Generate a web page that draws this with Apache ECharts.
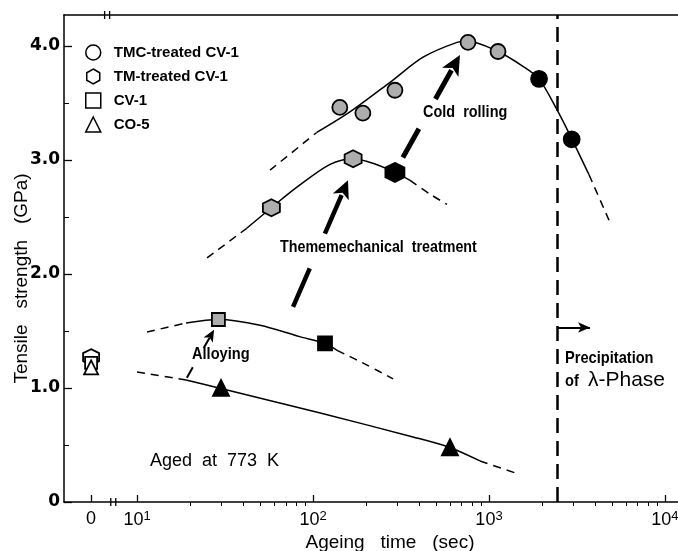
<!DOCTYPE html>
<html>
<head>
<meta charset="utf-8">
<script src="https://cdn.jsdelivr.net/npm/echarts@6/dist/echarts.min.js"></script>
<style>
  html, body { margin: 0; padding: 0; background: #fff; }
  #chart { width: 678px; height: 551px; }
</style>
</head>
<body>
<div id="chart"></div>
<script>
// ageing time in sec (0 = as-received), tensile strength in GPa
var tmcTime = [142, 192, 292, 760, 1125]
var tmcGPa = [3.46, 3.41, 3.61, 4.03, 3.95]
var tmcOverTime = [1925, 2950]
var tmcOverGPa = [3.71, 3.18]

var tmTime = [58, 169]
var tmGPa = [2.58, 3.01]
var tmOverTime = [292]
var tmOverGPa = [2.89]

var cvTime = [29]
var cvGPa = [1.60]
var cvOverTime = [117]
var cvOverGPa = [1.39]

var coTime = [30, 600]
var coGPa = [1.00, 0.48]

// as-received (t = 0) values
var zeroHexGPa = [1.27]
var zeroSquareGPa = [1.22]
var zeroTriGPa = [1.18]

// hand drawn curves: dashed lead-in, solid part, dashed tail
var tmcLeadTime = [57, 105], tmcLeadGPa = [2.91, 3.24]
var tmcSolidTime = [105, 162, 274, 422, 658, 760, 1125, 1560, 1923, 2433, 2963, 3700]
var tmcSolidGPa = [3.24, 3.42, 3.68, 3.90, 4.03, 4.04, 3.95, 3.82, 3.71, 3.44, 3.18, 2.87]
var tmcTailTime = [3700, 4810], tmcTailGPa = [2.87, 2.47]

var tmLeadTime = [25, 42], tmLeadGPa = [2.14, 2.40]
var tmSolidTime = [42, 58, 81, 125, 169, 219, 292, 356]
var tmSolidGPa = [2.40, 2.58, 2.76, 2.96, 3.01, 2.97, 2.89, 2.82]
var tmTailTime = [356, 462, 577], tmTailGPa = [2.82, 2.70, 2.61]

var cvLeadTime = [11.4, 19], cvLeadGPa = [1.49, 1.57]
var cvSolidTime = [19, 29.2, 50, 84, 117, 137]
var cvSolidGPa = [1.57, 1.60, 1.55, 1.45, 1.39, 1.33]
var cvTailTime = [137, 203, 285], cvTailGPa = [1.33, 1.20, 1.08]

var coLeadTime = [10, 19], coLeadGPa = [1.14, 1.07]
var coSolidTime = [19, 29.2, 110, 370, 593, 889]
var coSolidGPa = [1.07, 1.00, 0.78, 0.57, 0.48, 0.36]
var coTailTime = [889, 1442], coTailGPa = [0.36, 0.25]

// arrows [fromTime, fromGPa, toTime, toGPa]
var coldRollArrow = [324, 3.02, 684, 3.92]
var tmtArrow = [77, 1.71, 158, 2.82]
var alloyArrow = [19.2, 1.09, 27.4, 1.51]
var precipArrow = [2430, 1.53, 3750, 1.53]
var precipTime = 2430

// axis ticks
var xMajorTicks = [10, 100, 1000, 10000]
var xMinorTicks = [20, 30, 40, 50, 60, 70, 80, 90, 200, 300, 400, 500, 600, 700, 800, 900,
  2000, 3000, 4000, 5000, 6000, 7000, 8000, 9000]
var yMajorTicks = [0, 1, 2, 3, 4]
var yMinorTicks = [0.5, 1.5, 2.5, 3.5]

var ZERO_POS = 0.739 // where "0" sits on the log axis
var X_MIN = 0.585, X_MAX = 4.074
var Y_MIN = 0, Y_MAX = 4.27

var BOLD = '"Liberation Sans", Arial, sans-serif'
var SANS = '"Liberation Sans", Arial, sans-serif'
var HEX = 'path://M0,-10 L8.66,-5 L8.66,5 L0,10 L-8.66,5 L-8.66,-5 Z'

function lg(t) { return t === 0 ? ZERO_POS : Math.log10(t) }
function pairs(ts, ys) { return ts.map(function (t, i) { return [lg(t), ys[i]] }) }
function zeros(ys) { return ys.map(function (y) { return [ZERO_POS, y] }) }

var chart = echarts.init(document.getElementById('chart'))

function curve(ts, ys, dashed) {
  return {
    type: 'line', data: pairs(ts, ys), smooth: 0.3, symbol: 'none', silent: true, z: 1,
    lineStyle: { color: '#000', width: 1.5, type: dashed ? [8, 6] : 'solid' }
  }
}
function dots(name, ts, ys, symbol, size, fill) {
  return {
    name: name, type: 'scatter', data: ts === null ? zeros(ys) : pairs(ts, ys),
    symbol: symbol, symbolSize: size, z: 3,
    itemStyle: { color: fill, borderColor: '#000', borderWidth: 1.8, opacity: 1 }
  }
}
function arrow(a, width, dash, head) {
  return [{ coord: [lg(a[0]), a[1]], symbol: 'none' },
    { coord: [lg(a[2]), a[3]], symbol: 'arrow', symbolSize: head,
      lineStyle: { width: width, type: dash, color: '#000' } }]
}

var GRAY = '#adadad'

chart.setOption({
  animation: false,
  backgroundColor: '#fff',
  grid: { left: 64, right: 0, top: 15, bottom: 49, containLabel: false, outerBoundsMode: 'none' },
  legend: {
    orient: 'vertical', left: 85, top: 44, padding: 0, itemGap: 7, itemWidth: 15, itemHeight: 15,
    selectedMode: false,
    textStyle: { fontFamily: BOLD, fontWeight: 'bold', fontSize: 15, color: '#000', lineHeight: 17, padding: [0, 0, 0, 8] },
    data: [
      { name: 'TMC-treated CV-1', icon: 'circle', itemStyle: { color: '#fff', borderColor: '#000', borderWidth: 1.5 } },
      { name: 'TM-treated CV-1', icon: HEX, itemStyle: { color: '#fff', borderColor: '#000', borderWidth: 1.5 } },
      { name: 'CV-1', icon: 'rect', itemStyle: { color: '#fff', borderColor: '#000', borderWidth: 1.5 } },
      { name: 'CO-5', icon: 'triangle', itemStyle: { color: '#fff', borderColor: '#000', borderWidth: 1.5 } }
    ]
  },
  xAxis: [
    {
      type: 'value', min: X_MIN, max: X_MAX,
      name: 'Ageing   time   (sec)', nameLocation: 'middle', nameGap: 31, nameMoveOverlap: false,
      nameTextStyle: { fontFamily: SANS, fontSize: 19, color: '#000', padding: [0, 0, 0, 38] },
      axisLine: { lineStyle: { color: '#000', width: 1.5 } },
      splitLine: { show: false },
      axisTick: { inside: true, length: 7, lineStyle: { color: '#000', width: 1.3 },
        customValues: [ZERO_POS].concat(xMajorTicks.map(lg)) },
      axisLabel: {
        margin: 8, fontFamily: SANS, fontSize: 18, color: '#000',
        customValues: [ZERO_POS].concat(xMajorTicks.map(lg)),
        formatter: function (v) {
          if (Math.abs(v - ZERO_POS) < 1e-6) return '0'
          return '10{s|' + Math.round(v) + '}'
        },
        rich: {
          s: { fontFamily: SANS, fontSize: 13, color: '#000', verticalAlign: 'top', padding: [0, 0, 8, 0] }
        }
      }
    },
    {
      type: 'value', min: X_MIN, max: X_MAX,
      axisLine: { show: false }, splitLine: { show: false }, axisLabel: { show: false },
      axisTick: { inside: true, length: 4, lineStyle: { color: '#000', width: 1 },
        customValues: xMinorTicks.map(lg) }
    },
    {
      type: 'value', min: X_MIN, max: X_MAX, position: 'top',
      axisLine: { show: true, lineStyle: { color: '#000', width: 1.5 } },
      splitLine: { show: false }, axisLabel: { show: false }, axisTick: { show: false }
    }
  ],
  yAxis: [
    {
      type: 'value', min: Y_MIN, max: Y_MAX, position: 'left',
      name: 'Tensile   strength   (GPa)', nameLocation: 'middle', nameGap: 33, nameMoveOverlap: false,
      nameTextStyle: { fontFamily: SANS, fontSize: 19, color: '#000', padding: [0, 40, 0, 0] },
      axisLine: { show: true, lineStyle: { color: '#000', width: 1.5 } },
      splitLine: { show: false },
      axisTick: { inside: true, length: 8, lineStyle: { color: '#000', width: 1.3 }, customValues: yMajorTicks },
      axisLabel: {
        margin: 4, fontFamily: '"DejaVu Sans", sans-serif', fontWeight: 'bold', fontSize: 17, color: '#000',
        customValues: yMajorTicks,
        formatter: function (v) { return v === 0 ? '0' : v.toFixed(1) }
      }
    },
    {
      type: 'value', min: Y_MIN, max: Y_MAX, position: 'left',
      axisLine: { show: false }, splitLine: { show: false }, axisLabel: { show: false },
      axisTick: { show: true, inside: true, length: 5, lineStyle: { color: '#000', width: 1 }, customValues: yMinorTicks }
    }
  ],
  series: [
    curve(tmcLeadTime, tmcLeadGPa, true),
    curve(tmcSolidTime, tmcSolidGPa, false),
    curve(tmcTailTime, tmcTailGPa, true),
    curve(tmLeadTime, tmLeadGPa, true),
    curve(tmSolidTime, tmSolidGPa, false),
    curve(tmTailTime, tmTailGPa, true),
    curve(cvLeadTime, cvLeadGPa, true),
    curve(cvSolidTime, cvSolidGPa, false),
    curve(cvTailTime, cvTailGPa, true),
    curve(coLeadTime, coLeadGPa, true),
    curve(coSolidTime, coSolidGPa, false),
    curve(coTailTime, coTailGPa, true),
    {
      type: 'line', data: [], silent: true,
      markLine: {
        silent: true, symbol: 'none', label: { show: false },
        data: [
          [{ coord: [lg(precipTime), Y_MIN] }, { coord: [lg(precipTime), Y_MAX],
            lineStyle: { color: '#000', width: 2.5, type: [15, 8] } }],
          arrow(coldRollArrow, 5, [33, 34], [14, 20]),
          arrow(tmtArrow, 4.5, [42, 38], [13, 18]),
          arrow(alloyArrow, 2, [12, 22], [8, 12]),
          arrow(precipArrow, 2, 'solid', [8, 12])
        ]
      }
    },
    dots('TMC-treated CV-1', tmcTime, tmcGPa, 'circle', 15, GRAY),
    dots('TMC overaged', tmcOverTime, tmcOverGPa, 'circle', 16, '#000'),
    dots('TM-treated CV-1', tmTime, tmGPa, HEX, 17, GRAY),
    dots('TM overaged', tmOverTime, tmOverGPa, HEX, 19, '#000'),
    dots('CV-1', cvTime, cvGPa, 'rect', 13, GRAY),
    dots('CV-1 overaged', cvOverTime, cvOverGPa, 'rect', 14, '#000'),
    dots('CO-5', coTime, coGPa, 'triangle', 16, '#000'),
    dots('TM as-received', null, zeroHexGPa, HEX, 16, '#fff'),
    dots('CV-1 as-received', null, zeroSquareGPa, 'rect', 12, '#fff'),
    dots('CO-5 as-received', null, zeroTriGPa, 'triangle', 14, '#fff')
  ]
})

// axis break marks and annotation texts
var bx = chart.convertToPixel({ xAxisIndex: 0 }, 0.865)
var bTop = chart.convertToPixel({ xAxisIndex: 0 }, 0.83)
function breakMark(x, y) {
  return {
    type: 'group', children: [
      { type: 'rect', shape: { x: x - 2, y: y - 2, width: 4, height: 4 }, style: { fill: '#fff' } },
      { type: 'line', shape: { x1: x - 2.5, y1: y - 4, x2: x - 2.5, y2: y + 4 }, style: { stroke: '#000', lineWidth: 1.3 } },
      { type: 'line', shape: { x1: x + 2.5, y1: y - 4, x2: x + 2.5, y2: y + 4 }, style: { stroke: '#000', lineWidth: 1.3 } }
    ]
  }
}
// condensed bold lettering: squeeze a bold face horizontally
function txt(s, x, y, font, sx) {
  return { type: 'text', x: x, y: y, scaleX: sx || 1, style: { text: s, font: font, fill: '#000' } }
}
var boldNarrow = 'bold 17px ' + BOLD
chart.setOption({
  graphic: [
    breakMark(bx, 502),
    breakMark(bTop, 15),
    txt('Cold  rolling', 423, 104, boldNarrow, 0.85),
    txt('Thememechanical  treatment', 280, 239, boldNarrow, 0.84),
    txt('Alloying', 192, 346, boldNarrow, 0.86),
    txt('Aged  at  773  K', 150, 452, '18px ' + SANS),
    txt('Precipitation', 565, 350, boldNarrow, 0.86),
    txt('of', 565, 373, boldNarrow, 0.86),
    txt('\u03bb-Phase', 588, 370, '21px ' + SANS)
  ]
})
</script>
</body>
</html>
